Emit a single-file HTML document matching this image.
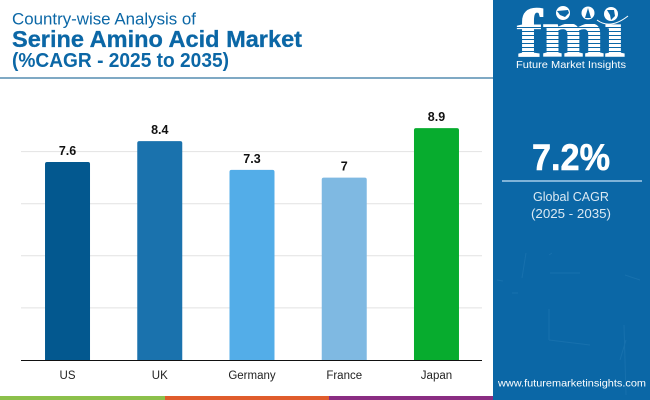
<!DOCTYPE html>
<html><head><meta charset="utf-8"><title>Serine Amino Acid Market</title>
<style>
html,body{margin:0;padding:0;background:#fff}
svg{display:block;font-family:"Liberation Sans",sans-serif}
</style></head>
<body>
<svg id="chart" width="650" height="400" viewBox="0 0 650 400" xmlns="http://www.w3.org/2000/svg">
  <rect width="650" height="400" fill="#fff"/>
  <text x="12" y="24.5" font-size="17" fill="#0b67a6" textLength="184" lengthAdjust="spacingAndGlyphs">Country-wise Analysis of</text>
  <text x="12" y="47" font-size="23" font-weight="bold" stroke="#0b67a6" stroke-width=".3" fill="#0b67a6" textLength="290" lengthAdjust="spacingAndGlyphs">Serine Amino Acid Market</text>
  <text x="12" y="67" font-size="20" font-weight="bold" fill="#0b67a6" textLength="217" lengthAdjust="spacingAndGlyphs">(%CAGR - 2025 to 2035)</text>
  <rect x="0" y="77" width="493" height="2" fill="#7fa9c4"/>

  <g id="grid"></g>
  <g id="bars"></g>
  <rect x="21" y="360" width="461" height="1" fill="#111"/>
  <g id="labels"></g>

  <rect x="0" y="396" width="165" height="4" fill="#8cc04b"/>
  <rect x="165" y="396" width="164" height="4" fill="#e05c2c"/>
  <rect x="329" y="396" width="164" height="4" fill="#8a2d82"/>

  <rect x="493" y="0" width="157" height="400" fill="#0b67a6"/>
  <g stroke="#2a7fb8" stroke-width="1" fill="none" opacity=".4">
    <path d="M526 253L522 278M625 275L640 280M549 255L552 253M550 273L580 273M549 340L549 309M549 340L590 345M624 325L626 395M497 280L503 281M512 293L518 293M620 360L626 340"/>
  </g>

  <g>
    <text x="517" y="56" font-family="'Liberation Serif',serif" font-weight="bold" font-size="68" fill="#fff" stroke="#fff" stroke-width="1.2" textLength="108" lengthAdjust="spacingAndGlyphs">fmi</text>
    <g id="logo-stripes" fill="#0b67a6">
      <rect x="512" y="27" width="118" height="1"/><rect x="512" y="31" width="118" height="1"/>
      <rect x="512" y="35" width="118" height="1"/><rect x="512" y="39" width="118" height="1"/>
      <rect x="512" y="43" width="118" height="1"/><rect x="512" y="47" width="118" height="1"/>
      <rect x="512" y="51" width="118" height="1"/>
    </g>
    <rect x="552" y="0" width="76" height="24" fill="#0b67a6"/>
    <circle cx="563" cy="13" r="7" fill="#fff"/>
    <path d="M557 11L568 10L569 13L565 17L560 15Z" fill="#0b67a6"/>
    <circle cx="588" cy="13" r="6.5" fill="#fff"/>
    <path d="M588 8L591 18L585 18Z" fill="#0b67a6"/>
    <circle cx="611" cy="14" r="7" fill="#fff"/>
    <path d="M607 10L614 10L615 16L611 20L610 15Z" fill="#0b67a6"/>
    <path d="M597 20Q610 30 628 16" stroke="#fff" stroke-width="1" fill="none"/>
    <text x="516" y="68" font-size="10.5" fill="#fff" textLength="110" lengthAdjust="spacingAndGlyphs">Future Market Insights</text>
  </g>

  <text x="571" y="170" text-anchor="middle" font-size="37" font-weight="bold" fill="#fff" stroke="#fff" stroke-width=".6" textLength="78" lengthAdjust="spacingAndGlyphs">7.2%</text>
  <rect x="502" y="180" width="140" height="2" fill="#7fb3d8"/>
  <text x="571" y="201" text-anchor="middle" font-size="12.5" fill="#dbe9f3" textLength="76" lengthAdjust="spacingAndGlyphs">Global CAGR</text>
  <text x="571" y="218" text-anchor="middle" font-size="12.5" fill="#dbe9f3" textLength="80" lengthAdjust="spacingAndGlyphs">(2025 - 2035)</text>
  <text x="572" y="386.5" text-anchor="middle" font-size="10.5" fill="#fff" textLength="148" lengthAdjust="spacingAndGlyphs">www.futuremarketinsights.com</text>
</svg>
<script>
const categories = ["US", "UK", "Germany", "France", "Japan"];
const values = [7.6, 8.4, 7.3, 7, 8.9];
const valueLabels = ["7.6", "8.4", "7.3", "7", "8.9"];
const barColors = ["#03588f", "#1a72ad", "#53ade8", "#7fb9e2", "#07ac2e"];
const gridValues = [2, 4, 6, 8];

const NS = "http://www.w3.org/2000/svg";
const plotLeft = 21.4, plotRight = 482.6, baseY = 360, pxPerUnit = 26.05, barW = 45;
const yScale = v => baseY - v * pxPerUnit;
const xCenter = i => plotLeft + (plotRight - plotLeft) * (i + 0.5) / categories.length;

function make(tag, attrs, text) {
  const el = document.createElementNS(NS, tag);
  for (const k in attrs) el.setAttribute(k, attrs[k]);
  if (text !== undefined) el.textContent = text;
  return el;
}

const gridG = document.getElementById("grid");
gridValues.forEach(function (v) {
  const line = make("line", {x1: 21, x2: 482, y1: yScale(v), y2: yScale(v), stroke: "#e2e2e2", "stroke-width": 1});
  
  
  gridG.appendChild(line);
});

const barsG = document.getElementById("bars");
const labelsG = document.getElementById("labels");
categories.forEach(function (c, i) {
  const cx = xCenter(i), y = yScale(values[i]);
  const d = "M" + (cx - barW / 2) + " " + baseY + "V" + (y + 2) + "Q" + (cx - barW / 2) + " " + y + " " + (cx - barW / 2 + 2) + " " + y +
    "H" + (cx + barW / 2 - 2) + "Q" + (cx + barW / 2) + " " + y + " " + (cx + barW / 2) + " " + (y + 2) + "V" + baseY + "Z";
  const bar = make("path", {d: d, fill: barColors[i]});
  
  
  barsG.appendChild(bar);

  const val = make("text", {x: cx, y: y - 7, "text-anchor": "middle", "font-size": 12.5, "font-weight": "bold", fill: "#111"}, valueLabels[i]);
  
  
  barsG.appendChild(val);

  const lab = make("text", {x: cx, y: 379, "text-anchor": "middle", "font-size": 11.5, fill: "#222"}, c);
  
  
  labelsG.appendChild(lab);
});
</script>
</body></html>
